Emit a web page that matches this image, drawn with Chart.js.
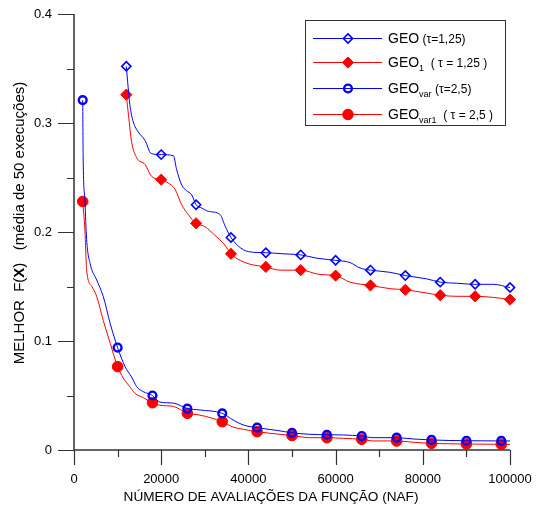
<!DOCTYPE html>
<html>
<head>
<meta charset="utf-8">
<script src="https://cdn.jsdelivr.net/npm/chart.js@4/dist/chart.umd.min.js"></script>
<style>
  html, body { margin: 0; padding: 0; background: #fff; }
  #wrap { width: 539px; height: 509px; }
</style>
</head>
<body>
<div id="wrap"><canvas id="c" width="539" height="509"></canvas></div>
<script>
// Best F(X) (mean of 50 runs) versus number of function evaluations (NAF)

// GEO (tau = 1,25)
const geoX = [12000, 12300, 12800, 13600, 14700, 16300, 17700, 20000, 22800, 23500, 24700, 25800, 27000, 28000, 29300, 30800, 33500, 34600, 36000, 37700, 40000, 44000, 48000, 52000, 55700, 60000, 63300, 65600, 68000, 72500, 76000, 80900, 84000, 87800, 92000, 96200, 100000];
const geoY = [0.352, 0.338, 0.317, 0.301, 0.292, 0.284, 0.272, 0.271, 0.270, 0.258, 0.243, 0.238, 0.234, 0.225, 0.222, 0.219, 0.216, 0.206, 0.195, 0.187, 0.182, 0.181, 0.180, 0.179, 0.176, 0.174, 0.172, 0.167, 0.165, 0.163, 0.160, 0.157, 0.154, 0.153, 0.152, 0.152, 0.149];

// GEO1 (tau = 1,25)
const geo1X = [12000, 12500, 13200, 14400, 16300, 17800, 20000, 21600, 23200, 24700, 26200, 28000, 30000, 32300, 34600, 36000, 38100, 40800, 44000, 47200, 52000, 56400, 60000, 63300, 68000, 72500, 76000, 80900, 84000, 87800, 92000, 96200, 100000];
const geo1Y = [0.326, 0.307, 0.283, 0.268, 0.262, 0.251, 0.248, 0.245, 0.239, 0.225, 0.216, 0.208, 0.205, 0.197, 0.188, 0.180, 0.174, 0.170, 0.168, 0.165, 0.165, 0.161, 0.160, 0.154, 0.151, 0.148, 0.147, 0.144, 0.142, 0.141, 0.141, 0.140, 0.138];

// GEOvar (tau = 2,5)
const geoVarX = [2000, 2100, 2500, 2900, 3700, 5200, 6700, 8300, 10000, 11700, 13200, 14400, 15900, 18000, 19700, 22800, 26000, 28900, 34000, 36500, 38800, 42000, 46500, 50000, 54100, 58000, 61800, 66000, 68600, 74000, 77800, 82000, 90000, 98000, 100000];
const geoVarY = [0.321, 0.269, 0.229, 0.193, 0.171, 0.156, 0.141, 0.116, 0.094, 0.0765, 0.067, 0.058, 0.0535, 0.050, 0.044, 0.043, 0.038, 0.0367, 0.0336, 0.0275, 0.023, 0.0205, 0.018, 0.0158, 0.0144, 0.0140, 0.0138, 0.0128, 0.0113, 0.0113, 0.0101, 0.0092, 0.0085, 0.0083, 0.0083];

// GEOvar1 (tau = 2,5)
const geoVar1X = [2000, 2500, 2900, 4100, 5200, 6700, 8300, 10000, 11300, 12800, 14000, 15900, 18000, 19700, 22800, 26000, 28900, 34000, 36500, 38800, 42000, 46500, 50000, 54100, 58000, 61800, 66000, 68600, 74000, 77800, 82000, 90000, 98000, 100000];
const geoVar1Y = [0.228, 0.202, 0.165, 0.150, 0.141, 0.119, 0.098, 0.0765, 0.066, 0.058, 0.052, 0.048, 0.0434, 0.041, 0.040, 0.0336, 0.032, 0.026, 0.021, 0.019, 0.0168, 0.0147, 0.0133, 0.0113, 0.0113, 0.0107, 0.0098, 0.0083, 0.0083, 0.0071, 0.0061, 0.0055, 0.0052, 0.0052];

// evaluation counts where symbols are placed
const geoMarks = [12000, 20000, 28000, 36000, 44000, 52000, 60000, 68000, 76000, 84000, 92000, 100000];
const varMarks = [2000, 10000, 18000, 26000, 34000, 42000, 50000, 58000, 66000, 74000, 82000, 90000, 98000];

// axis ticks
const xMajorStep = 20000, xMinorStep = 10000;
const yMajorStep = 0.1, yMinorStep = 0.05;

const FONT = '"Liberation Sans", Arial, Helvetica, sans-serif';
const BLUE = '#0000ff';
const RED = '#ff0000';

function points(xs, ys) { return xs.map((x, i) => ({ x: x, y: ys[i] })); }

const styles = {
  geo:     { pointStyle: 'rectRot', radius: 4.6, borderWidth: 1.6, color: BLUE, fill: 'rgba(0,0,0,0)' },
  geo1:    { pointStyle: 'rectRot', radius: 5.6, borderWidth: 1,   color: RED,  fill: RED },
  geoVar:  { pointStyle: 'circle',  radius: 3.9, borderWidth: 2.4, color: BLUE, fill: 'rgba(0,0,0,0)' },
  geoVar1: { pointStyle: 'circle',  radius: 5.3, borderWidth: 1,   color: RED,  fill: RED }
};

function makeSet(label, xs, ys, st, marks) {
  return {
    label: label,
    data: points(xs, ys),
    showLine: true,
    borderColor: st.color,
    borderWidth: 1,
    backgroundColor: st.fill,
    pointStyle: st.pointStyle,
    pointBorderColor: st.color,
    pointBackgroundColor: st.fill,
    pointBorderWidth: st.borderWidth,
    pointRadius: c => (c.raw && marks.includes(c.raw.x)) ? st.radius : 0,
    pointHoverRadius: c => (c.raw && marks.includes(c.raw.x)) ? st.radius : 0,
    cubicInterpolationMode: 'monotone',
    clip: false
  };
}

// axis lines with long major and short minor tick marks
const axesPlugin = {
  id: 'axesTicks',
  beforeDatasetsDraw(chart) {
    const ctx = chart.ctx, a = chart.chartArea;
    const xs = chart.scales.x, ys = chart.scales.y;
    ctx.save();
    ctx.strokeStyle = '#333';
    ctx.lineWidth = 1.5;
    ctx.beginPath();
    ctx.moveTo(a.left, a.top);
    ctx.lineTo(a.left, a.bottom);
    ctx.lineTo(a.right, a.bottom);
    ctx.stroke();
    ctx.lineWidth = 1.2;
    ctx.beginPath();
    for (let v = xs.min; v <= xs.max + 1; v += xMinorStep) {
      const px = Math.round(xs.getPixelForValue(v)) + 0.5;
      const len = (Math.round(v) % xMajorStep === 0) ? 15 : 7;
      ctx.moveTo(px, a.bottom);
      ctx.lineTo(px, a.bottom + len);
    }
    for (let i = 0; i * yMinorStep <= ys.max + 1e-9; i++) {
      const v = i * yMinorStep;
      const py = Math.round(ys.getPixelForValue(v)) + 0.5;
      const len = (i % Math.round(yMajorStep / yMinorStep) === 0) ? 16 : 7;
      ctx.moveTo(a.left, py);
      ctx.lineTo(a.left - len, py);
    }
    ctx.stroke();
    ctx.restore();
  }
};

function drawRuns(ctx, x, y, runs) {
  for (const r of runs) {
    ctx.font = (r[3] || '') + ' ' + r[1] + 'px ' + FONT;
    ctx.fillText(r[0], x, y + r[2]);
    x += ctx.measureText(r[0]).width;
  }
  return x;
}

function runsWidth(ctx, runs) {
  let w = 0;
  for (const r of runs) {
    ctx.font = (r[3] || '') + ' ' + r[1] + 'px ' + FONT;
    w += ctx.measureText(r[0]).width;
  }
  return w;
}

function drawMarker(ctx, st, x, y) {
  ctx.save();
  ctx.lineWidth = st.borderWidth;
  ctx.strokeStyle = st.color;
  ctx.fillStyle = st.fill;
  ctx.beginPath();
  if (st.pointStyle === 'circle') {
    ctx.arc(x, y, st.radius, 0, Math.PI * 2);
  } else {
    const r = st.radius;
    ctx.moveTo(x, y - r); ctx.lineTo(x + r, y); ctx.lineTo(x, y + r); ctx.lineTo(x - r, y); ctx.closePath();
  }
  ctx.fill();
  ctx.stroke();
  ctx.restore();
}

// axis titles and boxed legend
const textPlugin = {
  id: 'titlesLegend',
  afterDraw(chart) {
    const ctx = chart.ctx;
    ctx.save();
    ctx.fillStyle = '#000';
    ctx.textBaseline = 'middle';

    // x title
    ctx.textAlign = 'center';
    ctx.font = '13.6px ' + FONT;
    ctx.fillText('NÚMERO DE AVALIAÇÕES DA FUNÇÃO (NAF)', 271, 497);

    // y title
    ctx.textAlign = 'left';
    const yRuns = [['MELHOR  F(', 15, 0], ['X', 15, 0, 'bold'], [')   (média de 50 execuções)', 15, 0]];
    const w = runsWidth(ctx, yRuns);
    ctx.translate(20, 223);
    ctx.rotate(-Math.PI / 2);
    drawRuns(ctx, -w / 2, 0, yRuns);
    ctx.setTransform(1, 0, 0, 1, 0, 0);

    // legend
    const box = { l: 305, t: 20, r: 505, b: 125 };
    ctx.fillStyle = '#fff';
    ctx.fillRect(box.l, box.t, box.r - box.l, box.b - box.t);
    ctx.strokeStyle = '#333';
    ctx.lineWidth = 1;
    ctx.strokeRect(box.l + 0.5, box.t + 0.5, box.r - box.l, box.b - box.t);

    const rows = [
      { st: styles.geo,     y: 38,  runs: [['GEO', 14, 0], [' (τ=1,25)', 12, 0]] },
      { st: styles.geo1,    y: 62,  runs: [['GEO', 14, 0], ['1', 9, 4], ['  ( τ = 1,25 )', 12, 0]] },
      { st: styles.geoVar,  y: 88,  runs: [['GEO', 14, 0], ['var', 9, 4], [' (τ=2,5)', 12, 0]] },
      { st: styles.geoVar1, y: 114, runs: [['GEO', 14, 0], ['var1', 9, 4], ['  ( τ = 2,5 )', 12, 0]] }
    ];
    ctx.textBaseline = 'alphabetic';
    for (const row of rows) {
      ctx.strokeStyle = row.st.color;
      ctx.lineWidth = 1.2;
      ctx.beginPath();
      ctx.moveTo(313, row.y + 0.5);
      ctx.lineTo(382, row.y + 0.5);
      ctx.stroke();
      drawMarker(ctx, row.st, 348, row.y + 0.5);
      ctx.fillStyle = '#000';
      drawRuns(ctx, 388, row.y + 5, row.runs);
    }
    ctx.restore();
  }
};

function zeroPadding(s) {
  s.paddingTop = 0; s.paddingBottom = 0; s.paddingLeft = 0; s.paddingRight = 0;
}

new Chart(document.getElementById('c'), {
  type: 'scatter',
  data: {
    datasets: [
      makeSet('GEO (τ=1,25)', geoX, geoY, styles.geo, geoMarks),
      makeSet('GEO1 ( τ = 1,25 )', geo1X, geo1Y, styles.geo1, geoMarks),
      makeSet('GEOvar (τ=2,5)', geoVarX, geoVarY, styles.geoVar, varMarks),
      makeSet('GEOvar1 ( τ = 2,5 )', geoVar1X, geoVar1Y, styles.geoVar1, varMarks)
    ]
  },
  options: {
    responsive: false,
    animation: false,
    devicePixelRatio: 1,
    events: [],
    layout: { padding: { left: 0, top: 14, right: 29, bottom: 0 }, autoPadding: false },
    plugins: { legend: { display: false }, tooltip: { enabled: false } },
    scales: {
      x: {
        type: 'linear',
        min: 0, max: 100000,
        grid: { display: false, drawTicks: false },
        border: { display: false },
        ticks: {
          stepSize: xMajorStep,
          padding: 22,
          color: '#000',
          font: { family: FONT, size: 13 },
          maxRotation: 0,
          callback: v => String(v)
        },
        afterFit: s => { s.height = 59; zeroPadding(s); }
      },
      y: {
        type: 'linear',
        min: 0, max: 0.4,
        grid: { display: false, drawTicks: false },
        border: { display: false },
        ticks: {
          stepSize: yMajorStep,
          padding: 22,
          color: '#000',
          font: { family: FONT, size: 13 },
          callback: v => (Math.round(v * 10) / 10).toString()
        },
        afterFit: s => { s.width = 74; zeroPadding(s); }
      }
    }
  },
  plugins: [axesPlugin, textPlugin]
});
</script>
</body>
</html>
